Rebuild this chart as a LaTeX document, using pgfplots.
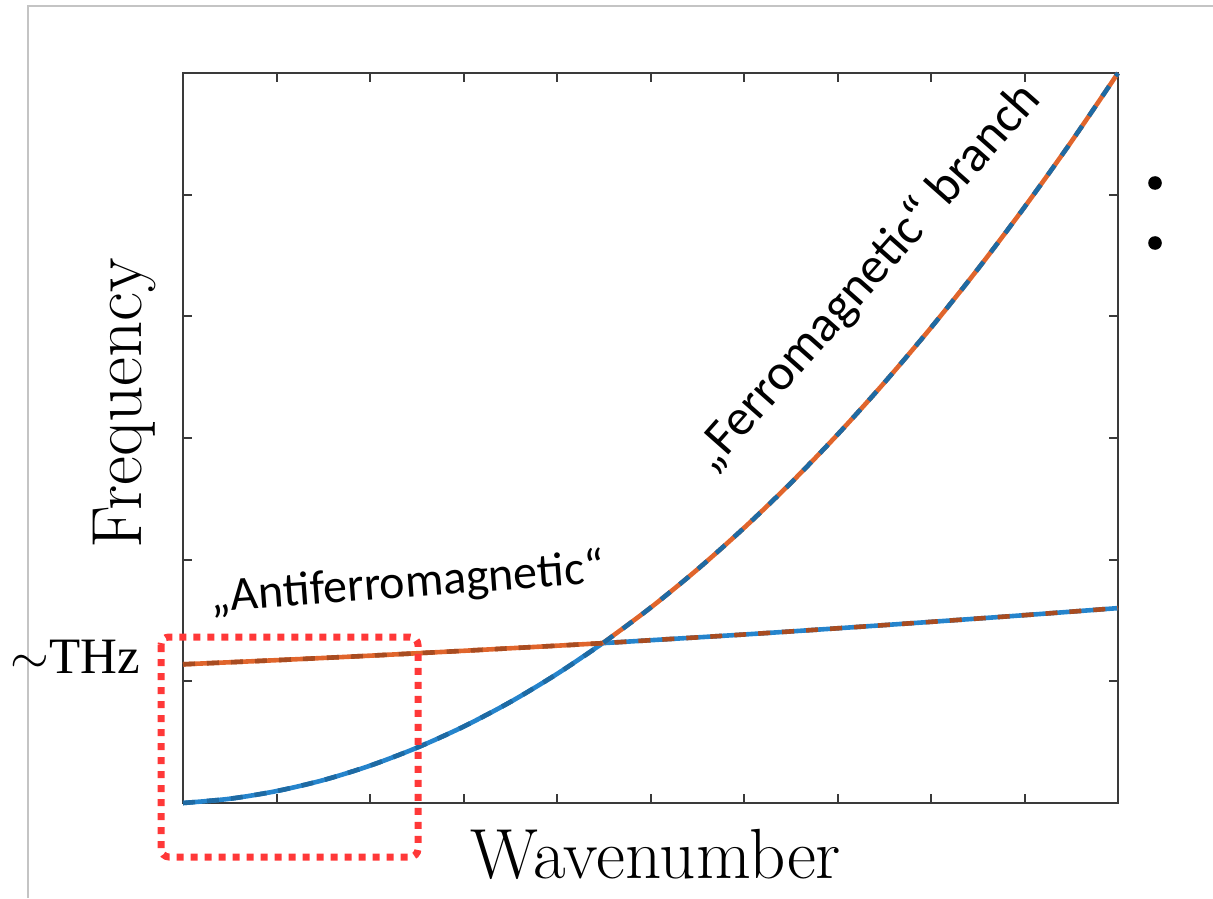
\documentclass[border=0pt]{standalone}
\usepackage{fontspec}
\usepackage{pgfplots}
\pgfplotsset{compat=1.18}
\newfontfamily\calib{Carlito}
\newfontfamily\tnr{Liberation Serif}

\definecolor{mblue}{HTML}{2584CC}
\definecolor{morange}{HTML}{E0652C}
\definecolor{axgray}{HTML}{3A3A3A}
\definecolor{framegray}{HTML}{C4C4C4}
\definecolor{boxred}{HTML}{FF3838}

% lower / upper branch, (wavenumber, frequency)
\pgfplotstableread{
x y
0    0
0.5  0.035
1    0.098
1.5  0.188
2    0.307
2.5  0.454
3    0.628
3.5  0.830
4    1.061
4.49 1.314
5    1.605
5.5  1.919
6    2.261
6.5  2.630
7    3.028
7.5  3.454
8    3.907
8.5  4.388
9    4.898
9.5  5.435
10   6.0
}\ferro
\pgfplotstableread{
x y
0    1.140
1    1.174
2    1.211
3    1.251
4    1.293
4.49 1.314
5    1.338
6    1.385
7    1.436
8    1.489
9    1.544
10   1.602
}\antiferro

\begin{document}
\begin{tikzpicture}
\path[use as bounding box] (0,0) rectangle (606.5pt,-449pt);

\begin{axis}[
  at={(91.5pt,-401.5pt)}, anchor=south west,
  scale only axis, width=467.5pt, height=365pt,
  xmin=0, xmax=10, ymin=0, ymax=6,
  xtick={0,...,10}, ytick={0,...,6},
  xticklabels={}, yticklabels={},
  tick align=inside, major tick length=4.5pt,
  axis line style={axgray, line width=1.4pt},
  every tick/.style={axgray, line width=1pt},
  clip=false,
]
% solid branches
\addplot[mblue, line width=2.3pt, smooth] coordinates {
  (0,0) (0.5,0.035) (1,0.098) (1.5,0.188) (2,0.307) (2.5,0.454) (3,0.628)
  (3.5,0.830) (4,1.061) (4.49,1.314)};
\addplot[mblue, line width=2.3pt, smooth] coordinates {
  (4.49,1.314) (5,1.338) (6,1.385) (7,1.436) (8,1.489) (9,1.544) (10,1.602)};
\addplot[morange, line width=2.3pt, smooth] coordinates {
  (0,1.140) (1,1.174) (2,1.211) (3,1.251) (4,1.293) (4.49,1.314)};
\addplot[morange, line width=2.3pt, smooth] coordinates {
  (4.49,1.314) (5,1.605) (5.5,1.919) (6,2.261) (6.5,2.630) (7,3.028) (7.5,3.454)
  (8,3.907) (8.5,4.388) (9,4.898) (9.5,5.435) (10,6.0)};
% dashed overlays
\addplot[mblue!80!black, line width=2.3pt, smooth, dash pattern=on 6pt off 6pt] table[x=x,y=y] {\ferro};
\addplot[morange!75!black, line width=2.3pt, smooth, dash pattern=on 6pt off 6pt] table[x=x,y=y] {\antiferro};
\end{axis}

\begin{scope}[x=0.5pt, y=-0.5pt]
  % slide frame
  \draw[framegray, line width=1pt] (28,898) -- (28,6) -- (1213,6);
  % axis labels
  \node[anchor=base, inner sep=0pt, font=\fontsize{35.5}{42}\selectfont] at (656,878) {Wavenumber};
  \node[anchor=base, rotate=90, inner sep=0pt, font=\fontsize{35.5}{42}\selectfont] at (141,403) {Frequency};
  \node[anchor=base west, inner sep=0pt, font=\fontsize{25.5}{30}\selectfont] at (10,673) {$\sim$\tnr THz};
  % annotations
  \node[anchor=base west, inner sep=0pt, rotate=4.3, font=\calib\fontsize{24}{29}\selectfont] at (211,612) {„Antiferromagnetic“};
  \node[anchor=base west, inner sep=0pt, rotate=48.5, font=\calib\fontsize{25.5}{30}\selectfont] at (712,474) {„Ferromagnetic“ branch};
  % highlight box
  \draw[boxred, line width=3.5pt, dash pattern=on 3.5pt off 3.5pt, rounded corners=4pt] (161,637) rectangle (418,857);
  % bullets of the cut-off slide text
  \fill[black] (1155,183) circle[radius=3.4pt];
  \fill[black] (1155,243) circle[radius=3.4pt];
\end{scope}
\end{tikzpicture}
\end{document}
